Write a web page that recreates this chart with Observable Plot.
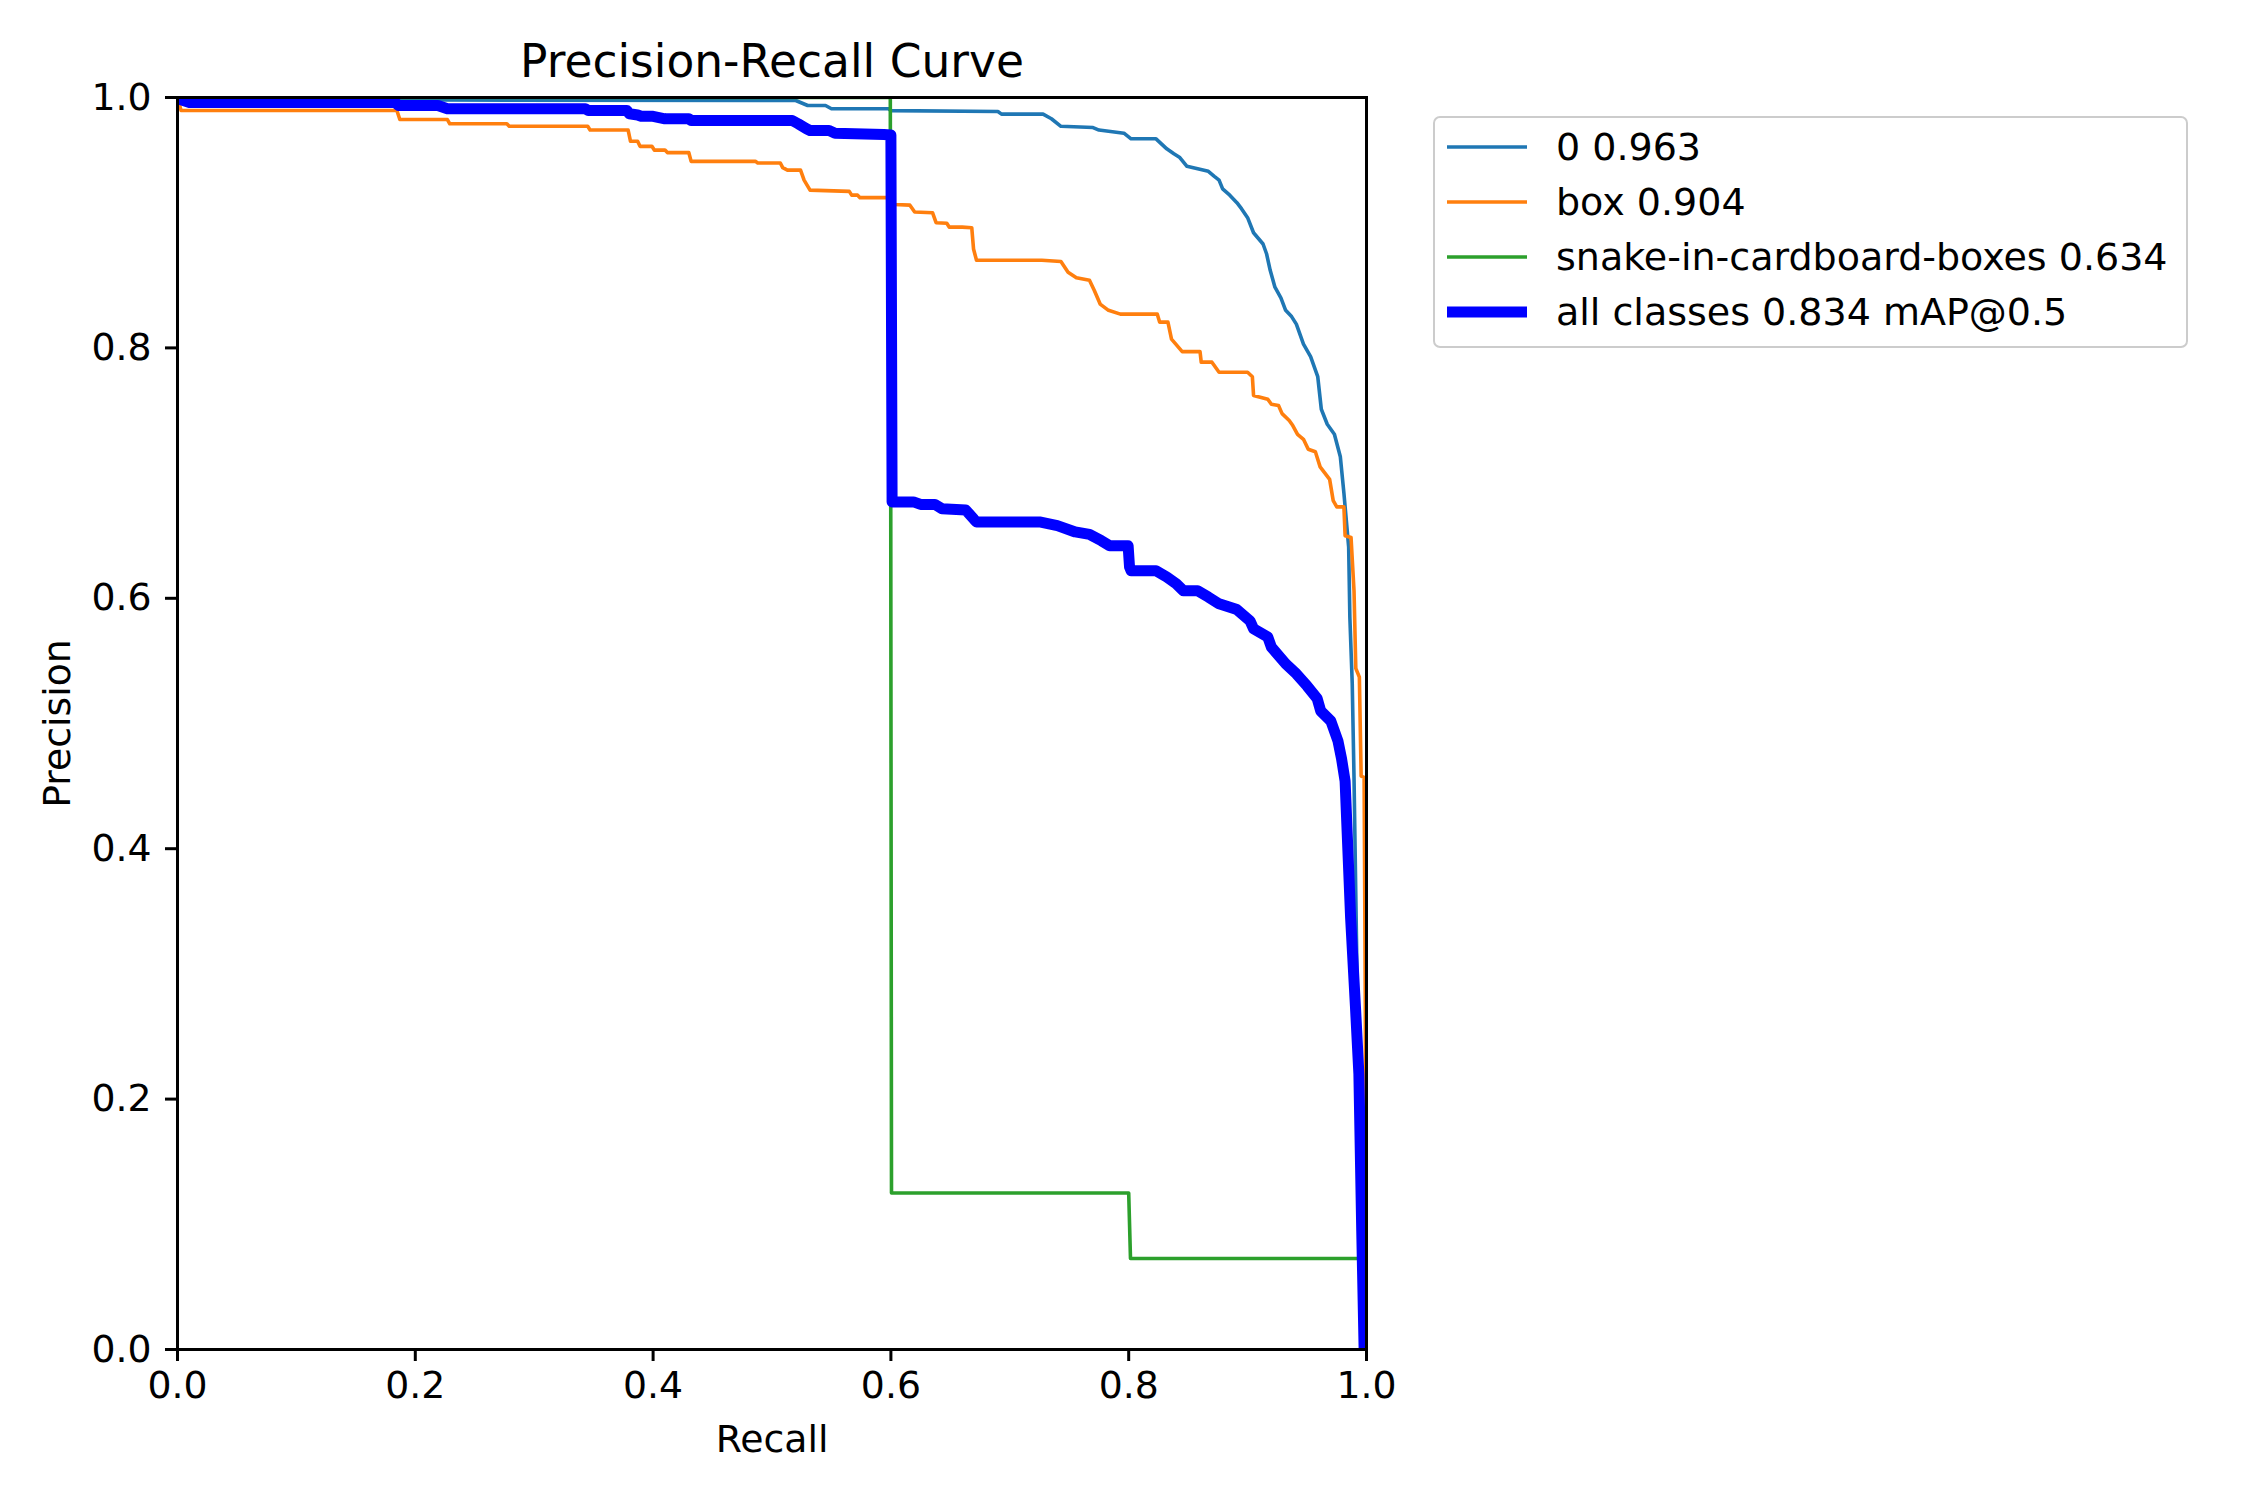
<!DOCTYPE html>
<html>
<head>
<meta charset="utf-8">
<script src="https://cdn.jsdelivr.net/npm/d3@7"></script>
<script src="https://cdn.jsdelivr.net/npm/@observablehq/plot@0.6"></script>
<style>
  html, body { margin: 0; padding: 0; background: white; }
  #wrap { position: relative; width: 2250px; height: 1500px; font-family: "DejaVu Sans", sans-serif; }
  #legend { position: absolute; left: 1433px; top: 116px; width: 751px; height: 228px;
            border: 2.8px solid #cccccc; border-radius: 7px; background: rgba(255,255,255,0.8); }
  .row { position: absolute; left: 0; height: 40px; width: 100%; }
  .row svg { position: absolute; left: 12px; top: 0; }
  .row span { position: absolute; left: 121px; top: 0; line-height: 40px; font-size: 38px; color: #000; white-space: nowrap; }
</style>
</head>
<body>
<div id="wrap"></div>
<script>
// ---- data ----
const titleText = "Precision-Recall Curve";
const xLabel = "Recall";
const yLabel = "Precision";
const xTicks = [0, 0.2, 0.4, 0.6, 0.8, 1.0];
const yTicks = [0, 0.2, 0.4, 0.6, 0.8, 1.0];

const seriesNames = ["0 0.963", "box 0.904", "snake-in-cardboard-boxes 0.634", "all classes 0.834 mAP@0.5"];
const seriesColors = ["#1f77b4", "#ff7f0e", "#2ca02c", "#0000ff"];
const seriesWidths = [3.6, 3.6, 3.6, 11];

// [recall, precision]
const class0 = [
  [0, 1.0], [0.05, 0.999], [0.22, 0.998], [0.52, 0.9976], [0.53, 0.9936], [0.545, 0.9936],
  [0.55, 0.991], [0.598, 0.991], [0.60, 0.9895], [0.69, 0.9888], [0.693, 0.9867], [0.728, 0.9867],
  [0.735, 0.983], [0.743, 0.977], [0.770, 0.976], [0.775, 0.974], [0.796, 0.9715], [0.802, 0.967],
  [0.823, 0.967], [0.832, 0.959], [0.838, 0.955], [0.843, 0.952], [0.849, 0.945], [0.858, 0.943],
  [0.867, 0.941], [0.872, 0.937], [0.876, 0.934], [0.879, 0.927], [0.885, 0.922], [0.891, 0.916],
  [0.895, 0.911], [0.900, 0.904], [0.905, 0.892], [0.913, 0.883], [0.916, 0.875], [0.919, 0.862],
  [0.923, 0.8485], [0.928, 0.840], [0.932, 0.830], [0.937, 0.825], [0.941, 0.819], [0.947, 0.803],
  [0.953, 0.793], [0.959, 0.777], [0.962, 0.751], [0.967, 0.739], [0.973, 0.731], [0.978, 0.713],
  [0.981, 0.684], [0.985, 0.641], [0.986, 0.585], [0.988, 0.532], [0.9895, 0.457], [0.992, 0.30],
  [0.995, 0.10], [0.997, 0.0]
];

const classBox = [
  [0, 1.0], [0.003, 0.9896], [0.1845, 0.9896], [0.187, 0.9824], [0.227, 0.9824], [0.229, 0.979],
  [0.277, 0.979], [0.279, 0.977], [0.345, 0.977], [0.347, 0.974], [0.379, 0.974], [0.381, 0.965],
  [0.387, 0.965], [0.389, 0.961], [0.399, 0.961], [0.401, 0.958], [0.410, 0.958], [0.412, 0.956],
  [0.430, 0.956], [0.432, 0.949], [0.486, 0.949], [0.488, 0.9477], [0.507, 0.9477], [0.509, 0.944],
  [0.513, 0.942], [0.524, 0.942], [0.527, 0.934], [0.532, 0.926], [0.565, 0.925], [0.567, 0.922],
  [0.572, 0.922], [0.574, 0.920], [0.600, 0.920], [0.603, 0.9145], [0.616, 0.914], [0.620, 0.9085],
  [0.635, 0.908], [0.638, 0.900], [0.647, 0.8995], [0.649, 0.8965], [0.660, 0.8965], [0.668, 0.896],
  [0.6695, 0.879], [0.672, 0.870], [0.727, 0.870], [0.743, 0.869], [0.749, 0.8605], [0.756, 0.856],
  [0.767, 0.854], [0.771, 0.846], [0.776, 0.835], [0.783, 0.830], [0.793, 0.827], [0.824, 0.827],
  [0.826, 0.8206], [0.833, 0.8206], [0.836, 0.807], [0.845, 0.797], [0.860, 0.797], [0.861, 0.7886],
  [0.870, 0.7886], [0.876, 0.7806], [0.900, 0.7806], [0.904, 0.777], [0.905, 0.762], [0.917, 0.759],
  [0.920, 0.755], [0.926, 0.754], [0.929, 0.7475], [0.935, 0.742], [0.938, 0.738], [0.942, 0.731],
  [0.947, 0.727], [0.951, 0.719], [0.957, 0.717], [0.961, 0.705], [0.969, 0.695], [0.972, 0.678],
  [0.975, 0.673], [0.981, 0.673], [0.982, 0.650], [0.987, 0.6485], [0.9895, 0.606], [0.991, 0.544],
  [0.994, 0.537], [0.9955, 0.458], [0.998, 0.457], [0.999, 0.275], [1.0, 0.0]
];

const classSnake = [
  [0, 1.0], [0.5995, 1.0], [0.6005, 0.125], [0.800, 0.125], [0.8015, 0.0727], [0.9966, 0.0727], [0.9985, 0.0]
];

const allClasses = [
  [0, 0.999], [0.01, 0.996], [0.183, 0.996], [0.186, 0.9936], [0.219, 0.9936], [0.227, 0.991],
  [0.343, 0.991], [0.3455, 0.9896], [0.378, 0.9896], [0.380, 0.987], [0.387, 0.986], [0.390, 0.985],
  [0.400, 0.985], [0.410, 0.983], [0.430, 0.983], [0.432, 0.9816], [0.517, 0.9816], [0.522, 0.979],
  [0.529, 0.975], [0.532, 0.9736], [0.548, 0.9736], [0.553, 0.9715], [0.594, 0.9705], [0.600, 0.970],
  [0.601, 0.677], [0.619, 0.677], [0.625, 0.675], [0.637, 0.675], [0.643, 0.6715], [0.663, 0.6705],
  [0.670, 0.663], [0.672, 0.661], [0.725, 0.661], [0.740, 0.658], [0.755, 0.653], [0.767, 0.651],
  [0.777, 0.646], [0.784, 0.642], [0.7995, 0.642], [0.8007, 0.625], [0.802, 0.622], [0.823, 0.622],
  [0.832, 0.617], [0.840, 0.6116], [0.846, 0.606], [0.858, 0.606], [0.867, 0.601], [0.876, 0.5956],
  [0.891, 0.591], [0.902, 0.582], [0.905, 0.5756], [0.917, 0.569], [0.920, 0.561], [0.932, 0.5477],
  [0.941, 0.5397], [0.950, 0.530], [0.9585, 0.520], [0.9615, 0.510], [0.970, 0.502], [0.976, 0.486],
  [0.979, 0.472], [0.982, 0.454], [0.9866, 0.3455], [0.9907, 0.274], [0.9936, 0.22], [0.996, 0.0946],
  [0.998, 0.0]
];

const seriesData = [class0, classBox, classSnake, allClasses];

// ---- build chart ----
const rows = seriesData.flatMap((pts, i) => pts.map(([r, p]) => ({series: seriesNames[i], recall: r, precision: p})));

const lineMarks = seriesData.map((pts, i) =>
  Plot.line(rows.filter(d => d.series === seriesNames[i]), {
    x: "recall", y: "precision",
    stroke: seriesColors[i], strokeWidth: seriesWidths[i],
    strokeLinejoin: "round", strokeLinecap: "butt", clip: true
  })
);

const chart = Plot.plot({
  width: 2250,
  height: 1500,
  marginLeft: 177,
  marginRight: 884,
  marginTop: 97,
  marginBottom: 151,
  style: { fontFamily: "DejaVu Sans, sans-serif", fontSize: "37.8px", background: "white", color: "black" },
  x: { domain: [0, 1], label: null },
  y: { domain: [0, 1], label: null },
  marks: [
    ...lineMarks,
    Plot.frame({ stroke: "black", strokeWidth: 3 }),
    Plot.axisX({ ticks: xTicks, tickFormat: d3.format(".1f"), tickSize: 12, tickPadding: 10,
                 strokeWidth: 3, fontSize: 37.8, label: null }),
    Plot.axisY({ ticks: yTicks, tickFormat: d3.format(".1f"), tickSize: 12, tickPadding: 14,
                 strokeWidth: 3, fontSize: 37.8, label: null }),
    Plot.text([titleText], { frameAnchor: "top", dy: -35, text: d => d, fontSize: 45.5, lineAnchor: "middle", textAnchor: "middle", fill: "black" }),
    Plot.text([xLabel], { frameAnchor: "bottom", dy: 90, text: d => d, fontSize: 37.8, lineAnchor: "middle", textAnchor: "middle", fill: "black" }),
    Plot.text([yLabel], { frameAnchor: "left", dx: -120, text: d => d, fontSize: 37.8, lineAnchor: "middle", textAnchor: "middle", rotate: -90, fill: "black" })
  ]
});

const wrap = document.getElementById("wrap");
wrap.appendChild(chart);

// ---- legend (built from the series arrays) ----
const legend = document.createElement("div");
legend.id = "legend";
const rowCenters = [29, 84, 139, 194];
seriesNames.forEach((name, i) => {
  const row = document.createElement("div");
  row.className = "row";
  row.style.top = (rowCenters[i] - 20) + "px";
  row.innerHTML = `<svg width="80" height="40"><line x1="0" x2="80" y1="20" y2="20" stroke="${seriesColors[i]}" stroke-width="${seriesWidths[i]}"/></svg><span>${name}</span>`;
  legend.appendChild(row);
});
wrap.appendChild(legend);
</script>
</body>
</html>
